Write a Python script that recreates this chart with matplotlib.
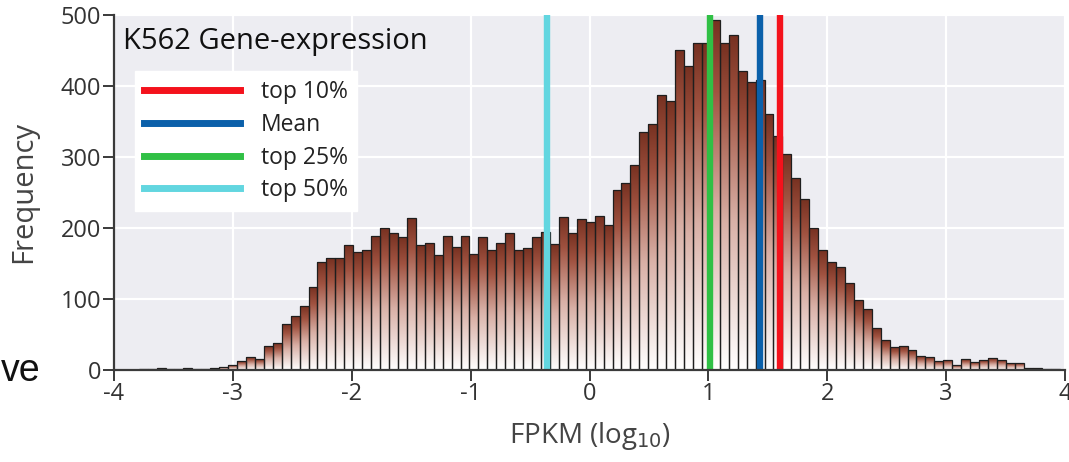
import numpy as np
import matplotlib
matplotlib.use("Agg")
import matplotlib.pyplot as plt
from matplotlib.colors import LinearSegmentedColormap
from matplotlib.lines import Line2D

# histogram bins (log10 FPKM)
bin_start = -3.792
bin_width = 0.0752
counts = [
    1, 1, 2, 1, 1, 2, 1, 1, 2, 3,
    7, 12, 17, 15, 33, 38, 64, 75, 89, 117,
    151, 157, 157, 175, 166, 169, 189, 200, 192, 187,
    214, 176, 178, 161, 189, 173, 189, 163, 187, 169,
    179, 192, 169, 171, 187, 194, 177, 215, 192, 212,
    208, 217, 204, 253, 263, 288, 335, 346, 387, 379,
    450, 428, 460, 460, 493, 460, 472, 421, 405, 408,
    360, 329, 304, 270, 240, 199, 169, 152, 144, 122,
    98, 85, 59, 42, 32, 33, 28, 19, 17, 12,
    13, 7, 15, 10, 13, 16, 14, 9, 9, 2,
    2, 1, 1,
]

# marker lines
line_labels = ["top 10%", "Mean", "top 25%", "top 50%"]
line_values = [1.60, 1.43, 1.01, -0.36]
line_colors = ["#f4121c", "#0b60aa", "#30c045", "#62d6e0"]

xticks = [-4, -3, -2, -1, 0, 1, 2, 3, 4]
yticks = [0, 100, 200, 300, 400, 500]

font = "Open Sans"
plt.rcParams["font.family"] = [font, "DejaVu Sans"]

fig = plt.figure(figsize=(10.69, 4.62), dpi=100)
ax = fig.add_axes([0.1066, 0.2002, 0.8897, 0.7673])
ax.set_facecolor("#ededf2")

lefts = bin_start + bin_width * np.arange(len(counts))

# gradient bars: dark brown at top fading to white at the base
cmap = LinearSegmentedColormap.from_list(
    "bar", [(0, "#ffffff"), (0.45, "#d9b0a6"), (0.8, "#a05240"), (1, "#773121")]
)
grad = np.linspace(0, 1, 256).reshape(-1, 1)
for left, h in zip(lefts, counts):
    if h <= 0:
        continue
    ax.imshow(grad, extent=(left, left + bin_width, 0, h), origin="lower",
              cmap=cmap, aspect="auto", zorder=2, interpolation="bilinear")
ax.bar(lefts, counts, width=bin_width, align="edge", fill=False,
       edgecolor="#1e1e1e", linewidth=0.9, zorder=3)

for val, col in zip(line_values, line_colors):
    ax.axvline(val, color=col, lw=4.6, zorder=4)

ax.set_xlim(-4, 4)
ax.set_ylim(0, 500)
ax.set_xticks(xticks)
ax.set_yticks(yticks)
ax.set_xticklabels([str(t) for t in xticks])
ax.grid(True, color="white", lw=1.6, zorder=0)
ax.set_axisbelow(True)

for s in ["top", "right"]:
    ax.spines[s].set_visible(False)
for s in ["left", "bottom"]:
    ax.spines[s].set_color("#3a3a3a")
    ax.spines[s].set_linewidth(1.6)
    ax.spines[s].set_zorder(5)
ax.tick_params(axis="both", length=8, width=1.4, color="#3a3a3a",
               labelsize=17, labelcolor="#333333", pad=1)

ax.set_ylabel("Frequency", fontsize=21, color="#444444", labelpad=16)
ax.set_xlabel("FPKM (log$_{10}$)", fontsize=20, color="#444444", labelpad=10)

ax.text(0.009, 0.925, "K562 Gene-expression", transform=ax.transAxes,
        fontsize=21, color="#111111", va="center", ha="left", zorder=6)

handles = [Line2D([0], [0], color=c, lw=5) for c in line_colors]
leg = ax.legend(handles, line_labels, loc="upper left",
                bbox_to_anchor=(0.022, 0.842), fontsize=16.5, frameon=True,
                handlelength=4.2, handletextpad=0.9, labelspacing=0.38,
                borderpad=0.4, borderaxespad=0, fancybox=False)
leg.get_frame().set_facecolor("white")
leg.get_frame().set_edgecolor("white")
leg.get_frame().set_alpha(1)
leg.set_zorder(6)
for t in leg.get_texts():
    t.set_color("#222222")

fig.text(0.001, 0.197, "ve", fontsize=27, family="Liberation Sans",
         va="center", ha="left", color="#111111")

fig.savefig("out.png", dpi=100)
